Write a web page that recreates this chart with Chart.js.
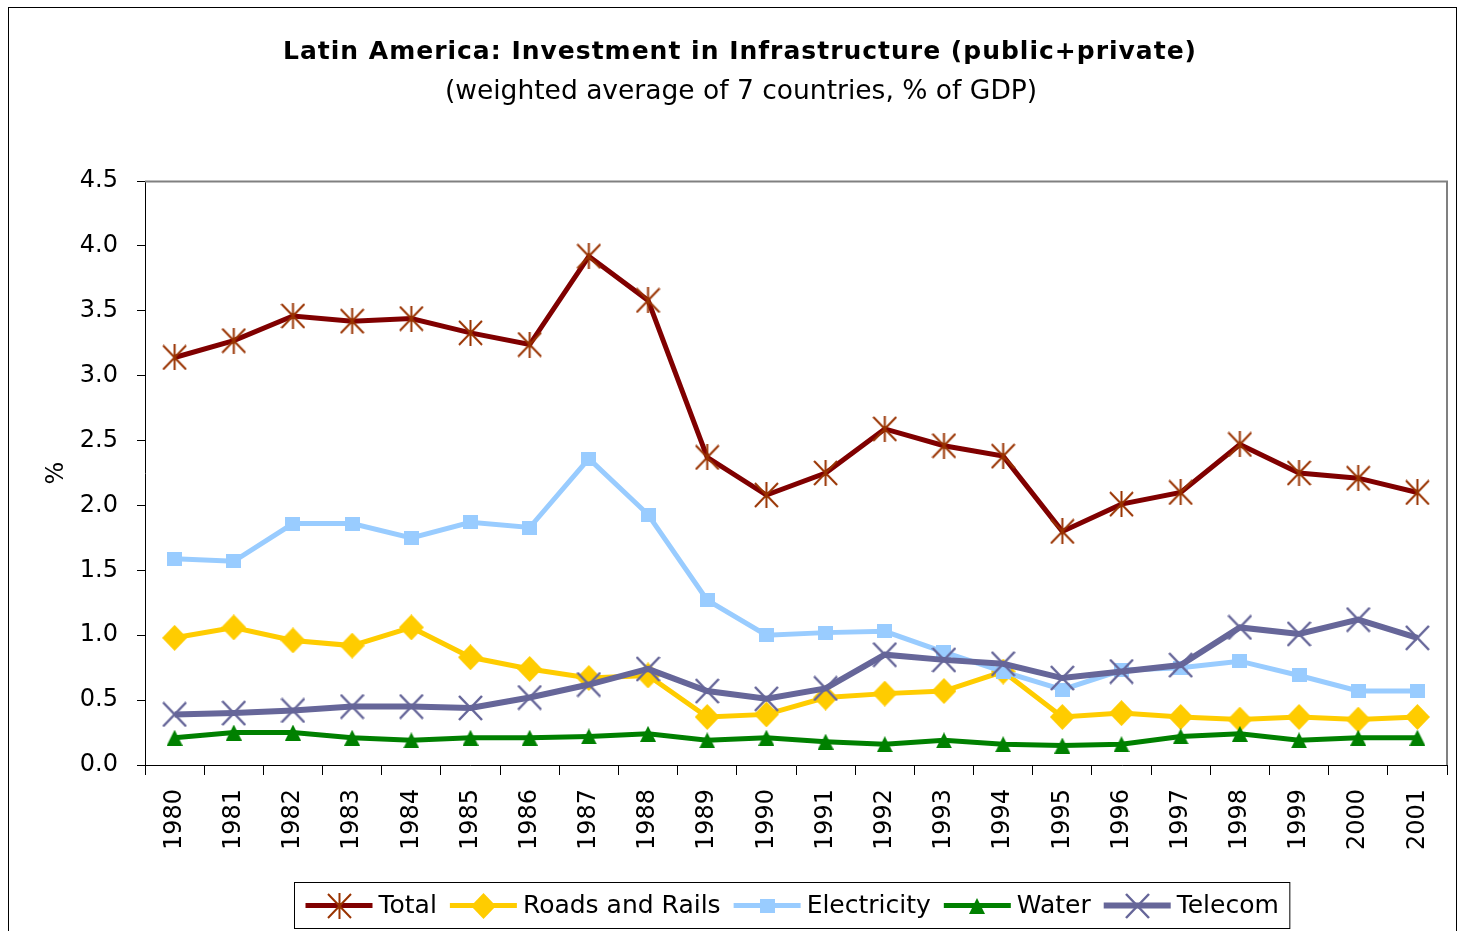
<!DOCTYPE html>
<html>
<head>
<meta charset="utf-8">
<script src="https://cdn.jsdelivr.net/npm/chart.js@4.4.1/dist/chart.umd.min.js"></script>
<style>
  html, body { margin: 0; padding: 0; background: #fff; }
</style>
</head>
<body>
<canvas id="chart" width="1458" height="931"></canvas>
<script>
// data (% of GDP)
const years = ['1980','1981','1982','1983','1984','1985','1986','1987','1988','1989','1990',
               '1991','1992','1993','1994','1995','1996','1997','1998','1999','2000','2001'];
const totalValues = [3.14, 3.27, 3.46, 3.42, 3.44, 3.33, 3.24, 3.92, 3.58, 2.37, 2.08,
                     2.25, 2.59, 2.46, 2.38, 1.80, 2.01, 2.10, 2.47, 2.25, 2.21, 2.10];
const roadsValues = [0.98, 1.06, 0.96, 0.92, 1.06, 0.83, 0.74, 0.67, 0.69, 0.37, 0.39,
                     0.52, 0.55, 0.57, 0.72, 0.37, 0.40, 0.37, 0.35, 0.37, 0.35, 0.37];
const electricityValues = [1.59, 1.57, 1.86, 1.86, 1.75, 1.87, 1.83, 2.36, 1.93, 1.27, 1.00,
                           1.02, 1.03, 0.87, 0.72, 0.58, 0.73, 0.75, 0.80, 0.69, 0.57, 0.57];
const waterValues = [0.21, 0.25, 0.25, 0.21, 0.19, 0.21, 0.21, 0.22, 0.24, 0.19, 0.21,
                     0.18, 0.16, 0.19, 0.16, 0.15, 0.16, 0.22, 0.24, 0.19, 0.21, 0.21];
const telecomValues = [0.39, 0.40, 0.42, 0.45, 0.45, 0.44, 0.52, 0.62, 0.74, 0.57, 0.51,
                       0.59, 0.85, 0.81, 0.78, 0.67, 0.72, 0.77, 1.06, 1.01, 1.12, 0.98];
const seriesNames = ['Total', 'Roads and Rails', 'Electricity', 'Water', 'Telecom'];
const yTicks = [0, 0.5, 1, 1.5, 2, 2.5, 3, 3.5, 4, 4.5];

const titleText = 'Latin America: Investment in Infrastructure (public+private)';
const subtitleText = '(weighted average of 7 countries, % of GDP)';
const FONT = '"DejaVu Sans", Verdana, sans-serif';

// excel-like marker images
function makeMarker(kind, color, w, h, lw) {
  const c = document.createElement('canvas');
  c.width = w; c.height = h;
  const g = c.getContext('2d');
  g.strokeStyle = color; g.fillStyle = color; g.lineWidth = lw;
  const cx = w / 2, cy = h / 2;
  g.beginPath();
  if (kind === 'star') {
    g.moveTo(1, 1); g.lineTo(w - 1, h - 1);
    g.moveTo(w - 1, 1); g.lineTo(1, h - 1);
    g.moveTo(cx, 0); g.lineTo(cx, h);
    g.stroke();
  } else if (kind === 'x') {
    g.moveTo(1, 1); g.lineTo(w - 1, h - 1);
    g.moveTo(w - 1, 1); g.lineTo(1, h - 1);
    g.stroke();
  } else if (kind === 'diamond') {
    g.moveTo(cx, 0); g.lineTo(w, cy); g.lineTo(cx, h); g.lineTo(0, cy);
    g.closePath(); g.fill();
  } else if (kind === 'square') {
    g.fillRect(0, 0, w, h);
  } else if (kind === 'triangle') {
    g.moveTo(cx, 0); g.lineTo(w, h); g.lineTo(0, h);
    g.closePath(); g.fill();
  }
  return c;
}

const markers = [
  makeMarker('star', '#993300', 25, 26, 2),
  makeMarker('diamond', '#FFCC00', 25, 26, 1),
  makeMarker('square', '#99CCFF', 15, 14, 1),
  makeMarker('triangle', '#008000', 16, 16, 1),
  makeMarker('x', '#666699', 25, 26, 2.5)
];
const lineColors = ['#800000', '#FFCC00', '#99CCFF', '#008000', '#666699'];
const lineWidths = [5, 5, 5, 5, 6];
const allValues = [totalValues, roadsValues, electricityValues, waterValues, telecomValues];
// later series on top, as in Excel
const drawOrder = [5, 4, 3, 2, 1];

const datasets = seriesNames.map((name, i) => ({
  label: name,
  data: allValues[i],
  borderColor: lineColors[i],
  backgroundColor: lineColors[i],
  borderWidth: lineWidths[i],
  pointStyle: markers[i],
  pointRadius: 10,
  tension: 0,
  order: drawOrder[i]
}));

// outer frame, titles, gray plot border, and the legend box
const decorations = {
  id: 'decorations',
  beforeDatasetsDraw(chart) {
    const { ctx, chartArea: a } = chart;
    ctx.save();
    ctx.strokeStyle = '#808080';
    ctx.lineWidth = 2;
    ctx.beginPath();
    ctx.moveTo(a.left, a.top + 0.5);
    ctx.lineTo(a.right, a.top + 0.5);
    ctx.lineTo(a.right, a.bottom);
    ctx.stroke();
    ctx.restore();
  },
  afterDraw(chart) {
    const { ctx, width } = chart;
    ctx.save();
    ctx.strokeStyle = '#000';
    ctx.lineWidth = 1;
    ctx.strokeRect(8.5, 7.5, width - 10, 960);

    ctx.fillStyle = '#000';
    ctx.textAlign = 'center';
    ctx.textBaseline = 'middle';
    ctx.font = 'bold 25px ' + FONT;
    ctx.letterSpacing = '1px';
    ctx.fillText(titleText, 740, 52);
    ctx.letterSpacing = '0px';
    ctx.font = '26.5px ' + FONT;
    ctx.fillText(subtitleText, 741, 92);

    // legend
    ctx.font = '25px ' + FONT;
    const sample = 67, gapText = 6, gapItem = 13, padX = 11;
    const widths = seriesNames.map(n => ctx.measureText(n).width);
    let boxW = padX * 2 - gapItem;
    widths.forEach(w => { boxW += sample + gapText + w + gapItem; });
    const boxX = Math.round(792 - boxW / 2) + 0.5, boxY = 882.5, boxH = 46;
    ctx.strokeStyle = '#000';
    ctx.strokeRect(boxX, boxY, boxW, boxH);
    const cy = boxY + boxH / 2;
    let x = boxX + padX;
    ctx.textAlign = 'left';
    seriesNames.forEach((n, i) => {
      ctx.strokeStyle = lineColors[i];
      ctx.lineWidth = lineWidths[i];
      ctx.beginPath();
      ctx.moveTo(x, cy); ctx.lineTo(x + sample, cy);
      ctx.stroke();
      const m = markers[i];
      ctx.drawImage(m, Math.round(x + sample / 2 - m.width / 2), Math.round(cy - m.height / 2));
      ctx.fillStyle = '#000';
      ctx.fillText(n, x + sample + gapText, cy + 1);
      x += sample + gapText + widths[i] + gapItem;
    });
    ctx.restore();
  }
};

new Chart(document.getElementById('chart'), {
  type: 'line',
  data: { labels: years, datasets: datasets },
  options: {
    responsive: false,
    animation: false,
    layout: { autoPadding: false, padding: { left: 8, right: 11, top: 181, bottom: 0 } },
    plugins: {
      legend: { display: false },
      title: { display: false },
      tooltip: { enabled: false }
    },
    scales: {
      x: {
        offset: true,
        afterFit: (s) => { s.height = 166; s.paddingLeft = 0; s.paddingRight = 0; },
        grid: { display: true, drawOnChartArea: false, drawTicks: true, tickLength: 10, tickColor: '#000', offset: true },
        border: { color: '#000', width: 1 },
        ticks: {
          autoSkip: false, minRotation: 90, maxRotation: 90, padding: 14,
          color: '#000', font: { family: FONT, size: 24 }
        }
      },
      y: {
        min: 0, max: 4.5,
        afterFit: (s) => { s.width = 137; },
        afterBuildTicks: (s) => { s.ticks = yTicks.map(v => ({ value: v })); },
        grid: { display: true, drawOnChartArea: false, drawTicks: true, tickLength: 8, tickColor: '#000' },
        border: { color: '#000', width: 1 },
        ticks: {
          padding: 19, color: '#000', font: { family: FONT, size: 24 },
          callback: (v) => Number(v).toFixed(1)
        },
        title: {
          display: true, text: '%', color: '#000',
          font: { family: FONT, size: 24 }, padding: { top: 34, bottom: 0 }
        }
      }
    }
  },
  plugins: [decorations]
});
</script>
</body>
</html>
